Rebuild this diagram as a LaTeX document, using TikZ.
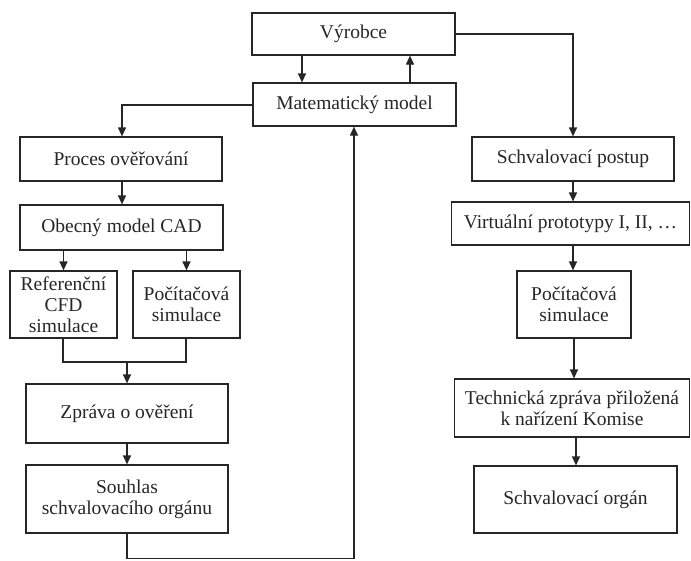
\documentclass[tikz,border=0pt]{standalone}
\usepackage{fontspec}
\setmainfont{Liberation Serif}
\usetikzlibrary{arrows.meta}
\begin{document}
\begin{tikzpicture}[x=1pt,y=-1pt,
  box/.style={draw=black!85,line width=1.2pt,rectangle,inner sep=0pt,align=center,
    font=\fontsize{19.5}{21}\selectfont,text=black!85},
  conn/.style={draw=black!85,line width=1.2pt},
  arr/.style={conn,-{Triangle[length=9pt,width=8pt]}}]
\useasboundingbox (0,0) rectangle (691,560);
\node[box,minimum width=203pt,minimum height=42pt] (vyr) at (353.5,34) {Výrobce};
\node[box,minimum width=203pt,minimum height=43pt] (mat) at (354.5,104.5) {Matematický model};
\node[box,minimum width=202pt,minimum height=44pt] (proc) at (121,159) {Proces ověřování};
\node[box,minimum width=203pt,minimum height=45pt] (cad) at (121.5,227.5) {Obecný model CAD};
\node[box,minimum width=107pt,minimum height=67pt] (ref) at (63.5,304.5) {Referenční\\CFD\\simulace};
\node[box,minimum width=107pt,minimum height=67pt] (poca) at (186.5,304.5) {Počítačová\\simulace};
\node[box,minimum width=202pt,minimum height=59pt] (zpr) at (127,413.5) {Zpráva o ověření};
\node[box,minimum width=202pt,minimum height=68pt] (sou) at (127,499) {Souhlas\\schvalovacího orgánu};
\node[box,minimum width=202pt,minimum height=44pt] (sch) at (573,159) {Schvalovací postup};
\node[box,minimum width=238pt,minimum height=43pt] (vir) at (570.5,223.5) {Virtuální prototypy I, II, \dots};
\node[box,minimum width=114pt,minimum height=67pt] (pocb) at (574,304.5) {Počítačová\\simulace};
\node[box,minimum width=235pt,minimum height=58pt] (tech) at (572,408) {Technická zpráva přiložená\\k nařízení Komise};
\node[box,minimum width=203pt,minimum height=67pt] (org) at (575.5,499.5) {Schvalovací orgán};
\coordinate (j1) at (63,362);
\coordinate (j2) at (186,362);
\coordinate (jm) at (127,362);
\coordinate (b1) at (127,558.5);
\coordinate (b2) at (354,558.5);
% top
\draw[arr] (vyr.south -| 302,0) -- (mat.north -| 302,0);
\draw[arr] (mat.north -| 410,0) -- (vyr.south -| 410,0);
\draw[arr] (mat.west |- 0,105) -| (proc.north -| 122,0);
\draw[arr] (vyr.east) -| (sch.north);
% left column
\draw[arr] (proc.south -| 122,0) -- (cad.north -| 122,0);
\draw[arr] (cad.south -| ref.north) -- (ref.north);
\draw[arr] (cad.south -| poca.north) -- (poca.north);
\draw[conn] (ref.south -| j1) -- (j1) -- (j2) -- (poca.south -| j2);
\draw[arr] (jm) -- (zpr.north);
\draw[arr] (zpr.south) -- (sou.north);
\draw[conn] (sou.south) -- (b1) -- (b2);
\draw[arr] (b2) -- (mat.south -| b2);
% right column
\draw[arr] (sch.south) -- (vir.north -| sch.south);
\draw[arr] (vir.south -| 573,0) -- (pocb.north -| 573,0);
\draw[arr] (pocb.south -| 574,0) -- (tech.north -| 574,0);
\draw[arr] (tech.south -| 576,0) -- (org.north -| 576,0);
\end{tikzpicture}
\end{document}
